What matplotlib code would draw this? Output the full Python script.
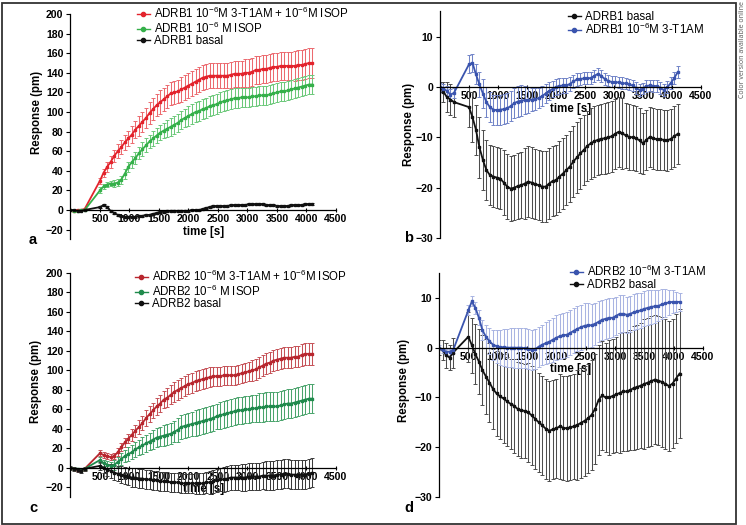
import numpy as np
import matplotlib
matplotlib.use("Agg")
import matplotlib.pyplot as plt
from matplotlib.lines import Line2D
from matplotlib.patches import Rectangle

plt.rcParams['font.family'] = ['Liberation Sans', 'DejaVu Sans']
plt.rcParams['mathtext.fontset'] = 'custom'
plt.rcParams['mathtext.rm'] = 'Liberation Sans'
plt.rcParams['mathtext.default'] = 'regular'

# sampling times [s]: baseline, then after compound addition
t = [0, 60, 120, 180, 240,
     500, 560, 620, 680, 740, 800, 860, 920, 980, 1040,
     1100, 1160, 1220, 1280, 1340, 1400, 1460, 1520, 1580, 1640,
     1700, 1760, 1820, 1880, 1940, 2000, 2060, 2120, 2180, 2240,
     2300, 2360, 2420, 2480, 2540, 2600, 2660, 2720, 2780, 2840,
     2900, 2960, 3020, 3080, 3140, 3200, 3260, 3320, 3380, 3440,
     3500, 3560, 3620, 3680, 3740, 3800, 3860, 3920, 3980, 4040,
     4100]

# panel a: ADRB1
a_combo = [0, -1, 0, 0, 1,
           30, 38, 44, 49, 55, 60, 64, 69, 73, 77,
           82, 86, 90, 94, 99, 103, 107, 110, 113, 116,
           119, 120, 121, 123, 125, 127, 129, 131, 133, 135,
           136, 137, 137, 137, 137, 137, 137, 138, 139, 139,
           139, 140, 140, 141, 143, 143, 144, 144, 145, 146,
           146, 147, 147, 147, 147, 147, 148, 148, 149, 150,
           150]
a_combo_err = [1, 1, 1, 1, 1,
               3, 4, 5, 6, 6, 7, 7, 8, 8, 9,
               9, 10, 10, 10, 11, 11, 11, 12, 12, 12,
               12, 12, 12, 13, 13, 13, 13, 13, 13, 13,
               13, 13, 13, 13, 13, 13, 13, 13, 13, 13,
               13, 14, 14, 14, 14, 14, 14, 14, 14, 14,
               14, 14, 14, 14, 14, 15, 15, 15, 15, 15,
               15]
a_isop = [0, -1, -1, 0, 0,
          20, 24, 26, 27, 27, 28, 31, 37, 44, 49,
          53, 58, 62, 66, 70, 73, 76, 79, 81, 83,
          85, 87, 89, 92, 94, 96, 98, 100, 101, 103,
          104, 106, 107, 108, 110, 111, 112, 113, 114, 114,
          115, 115, 115, 116, 116, 117, 117, 117, 118, 119,
          120, 121, 121, 122, 123, 124, 125, 126, 127, 128,
          128]
a_isop_err = [1, 1, 1, 1, 1,
              3, 3, 3, 3, 4, 4, 4, 5, 5, 6,
              6, 6, 7, 7, 7, 8, 8, 8, 8, 9,
              9, 9, 9, 9, 9, 10, 10, 10, 10, 10,
              10, 10, 10, 10, 10, 10, 10, 10, 10, 10,
              10, 10, 10, 10, 10, 10, 10, 10, 10, 10,
              10, 10, 10, 10, 10, 10, 10, 10, 10, 10,
              10]
a_basal = [0, 0, -1, -1, 0,
           3, 5, 3, -1, -3, -5, -6, -7, -7, -7,
           -7, -6, -6, -5, -5, -4, -3, -2, -2, -1,
           -1, -1, -1, -1, -1, -1, 0, 0, 0, 1,
           2, 3, 4, 4, 4, 4, 4, 5, 5, 5,
           5, 5, 6, 6, 6, 6, 6, 5, 5, 5,
           4, 4, 4, 4, 5, 5, 5, 5, 6, 6,
           6]
a_basal_err = [0.5, 0.5, 0.5, 0.5, 0.5,
               1, 1, 1, 1, 1, 1, 1, 1, 1, 1,
               1, 1, 1, 1, 1, 1, 1, 1, 1, 1,
               1, 1, 1, 1, 1, 1, 1, 1, 1, 1,
               1, 1, 1, 1, 1, 1, 1, 1, 1, 1,
               1, 1, 1, 1, 1, 1, 1, 1, 1, 1,
               1, 1, 1, 1, 1, 1, 1, 1, 1, 1,
               1]

# panel b: ADRB1
b_basal = [0, -1, -2, -2.5, -3,
           -4, -6, -8.5, -12, -14.5, -16.5, -17.5, -17.8, -18, -18.2,
           -19, -19.8, -20.2, -20, -19.7, -19.5, -19.2, -18.8, -19, -19.3,
           -19.5, -19.8, -19.8, -19.2, -18.7, -18.5, -17.8, -17.2, -16.5, -15.8,
           -14.8, -14, -13.2, -12.5, -11.7, -11.2, -10.8, -10.5, -10.3, -10.2,
           -10, -9.8, -9.3, -8.9, -9.2, -9.6, -9.9, -10, -10.2, -10.6,
           -11.2, -10.5, -9.9, -10.2, -10.4, -10.4, -10.5, -10.6, -10.3, -9.8,
           -9.3]
b_basal_err = [1, 2, 3, 3, 3,
               4, 5, 5, 6, 6, 6, 6, 6, 6, 6,
               6.5, 6.5, 6.5, 6.5, 6.5, 6.5, 7, 7, 7, 7,
               7, 7, 7, 7, 7, 7, 7, 7, 7, 7,
               7, 7, 7, 7, 7, 7, 7, 7, 7, 7,
               7, 7, 7, 7, 7, 6.5, 6.5, 6.5, 6.5, 6.5,
               6, 6, 6, 6, 6, 6, 6, 6, 6, 6,
               6]
b_t1am = [0, -0.3, -0.8, -1.5, -1.2,
          4.5, 4.8, 2.5, 0.5, -1.3, -3, -4, -4.5, -4.6, -4.5,
          -4.4, -4.2, -3.8, -3.2, -2.9, -2.7, -2.6, -2.6, -2.5, -2.4,
          -2.2, -1.8, -1.3, -0.8, -0.4, 0, 0.2, 0.3, 0.3, 0.6,
          1.1, 1.5, 1.6, 1.7, 1.7, 1.8, 2.2, 2.6, 2.2, 1.6,
          1.2, 1.0, 1.0, 0.9, 0.8, 0.7, 0.5, 0.3, -0.2, -0.6,
          -0.3, 0.2, 0.3, 0.2, 0.2, -0.2, -0.6, 0.0, 0.8, 1.8,
          3.0]
b_t1am_err = [0.7, 0.8, 1, 1.2, 1,
              1.8, 1.8, 2, 2.5, 2.8, 3, 3, 3, 3, 3,
              3, 3, 3, 3, 3, 3, 2.8, 2.5, 2.3, 2.2,
              2, 2, 1.8, 1.8, 1.6, 1.5, 1.5, 1.5, 1.4, 1.4,
              1.3, 1.3, 1.2, 1.2, 1.2, 1.2, 1.2, 1.2, 1.2, 1.2,
              1.1, 1.1, 1.1, 1.1, 1.1, 1.1, 1.1, 1.1, 1.1, 1.1,
              1.1, 1.1, 1.1, 1.1, 1.1, 1.1, 1.1, 1.1, 1.2, 1.2,
              1.2]

# panel c: ADRB2
c_combo = [0, -1, -2, -2, -1,
           15, 13, 12, 11, 12, 16, 21, 26, 30, 34,
           38, 42, 46, 51, 55, 59, 63, 66, 70, 72,
           75, 78, 80, 82, 84, 86, 87, 89, 90, 91,
           92, 93, 94, 94, 94, 95, 95, 95, 95, 96,
           97, 98, 99, 100, 101, 103, 105, 107, 108, 110,
           111, 112, 113, 113, 113, 114, 114, 116, 117, 117,
           117]
c_combo_err = [1, 1, 1, 1, 1,
               3, 3, 3, 3, 3, 4, 4, 5, 5, 6,
               6, 7, 7, 8, 8, 8, 9, 9, 9, 10,
               10, 10, 10, 10, 10, 10, 10, 10, 10, 10,
               10, 10, 10, 10, 10, 10, 10, 10, 10, 10,
               10, 10, 10, 11, 11, 11, 11, 11, 11, 11,
               11, 11, 11, 11, 11, 11, 11, 11, 11, 11,
               11]
c_isop = [0, -1, -1, -2, -1,
          8, 5, 3, 2, 3, 6, 9, 12, 14, 16,
          19, 21, 23, 25, 27, 29, 31, 32, 33, 34,
          35, 37, 39, 42, 43, 44, 45, 46, 47, 48,
          49, 50, 51, 53, 54, 55, 56, 57, 58, 59,
          59, 60, 60, 61, 61, 62, 62, 63, 63, 63,
          63, 64, 65, 66, 66, 67, 68, 69, 70, 71,
          71]
c_isop_err = [1, 1, 1, 1, 1,
              3, 3, 4, 4, 5, 5, 6, 6, 7, 7,
              8, 8, 9, 9, 9, 10, 10, 10, 11, 11,
              11, 11, 12, 12, 12, 12, 12, 13, 13, 13,
              13, 13, 13, 13, 14, 14, 14, 14, 14, 14,
              14, 14, 14, 14, 14, 15, 15, 15, 15, 15,
              15, 15, 15, 15, 15, 15, 15, 15, 15, 15,
              15]
c_basal = [0, -1, -2, -3, -1,
           2, 0, -2, -3, -5, -6, -7, -8, -9, -10,
           -10, -11, -11, -12, -12, -13, -13, -14, -14, -14,
           -15, -15, -15, -16, -16, -16, -16, -16, -16, -16,
           -15, -15, -14, -13, -12, -12, -11, -10, -10, -10,
           -10, -10, -9, -9, -9, -9, -8, -8, -8, -8,
           -7, -7, -6, -6, -7, -7, -7, -7, -7, -6,
           -5]
c_basal_err = [2, 2, 2, 2, 2,
               4, 5, 6, 7, 8, 8, 9, 9, 9, 10,
               10, 10, 10, 10, 10, 10, 10, 10, 10, 10,
               10, 10, 10, 10, 10, 10, 10, 11, 11, 11,
               11, 12, 12, 12, 12, 13, 13, 13, 13, 13,
               14, 14, 14, 14, 14, 14, 14, 15, 15, 15,
               15, 15, 15, 15, 15, 15, 15, 15, 15, 15,
               15]

# panel d: ADRB2
d_t1am = [0, -0.5, -0.8, -0.8, -0.5,
          7.5, 9.3, 8, 6, 3.5, 2.2, 1.3, 0.6, 0.3, 0.1,
          0.1, 0, 0, 0, 0, 0, -0.1, -0.2, -0.5, -0.3,
          0.2, 0.6, 0.9, 1.2, 1.6, 2.0, 2.3, 2.5, 2.6, 3.0,
          3.4, 3.8, 4.1, 4.4, 4.5, 4.5, 4.8, 5.2, 5.6, 5.8,
          6.0, 6.0, 6.4, 6.8, 6.8, 6.6, 6.8, 7.1, 7.3, 7.5,
          7.8, 8.0, 8.2, 8.3, 8.4, 8.7, 8.9, 9.1, 9.2, 9.2,
          9.2]
d_t1am_err = [0.5, 0.5, 0.6, 0.6, 0.5,
              1, 1, 1.2, 1.5, 2, 2.3, 2.6, 3, 3.3, 3.5,
              3.7, 3.8, 3.9, 4, 4, 4, 4, 4, 4, 4,
              4, 4, 4.2, 4.3, 4.4, 4.5, 4.5, 4.5, 4.5, 4.5,
              4.5, 4.5, 4.5, 4.5, 4.5, 4.3, 4.2, 4.1, 4, 4,
              4, 3.9, 3.8, 3.8, 3.7, 3.6, 3.6, 3.6, 3.6, 3.5,
              3.5, 3.5, 3.4, 3.3, 3.1, 3.0, 2.8, 2.5, 2.3, 2.0,
              1.8]
d_basal = [0, -0.5, -1.5, -2, -1,
           2.2, 0.5, -1.3, -2.8, -4.5, -5.8, -7, -8.3, -9.2, -9.8,
           -10.2, -10.8, -11.3, -11.7, -12.3, -12.6, -12.7, -13, -13.6, -14.3,
           -15, -15.6, -16.3, -16.7, -16.4, -16.2, -15.8, -16.1, -16.2, -16,
           -15.8, -15.5, -15.1, -14.7, -14.2, -13.5, -12.3, -10.5, -9.6, -10,
           -10, -9.7, -9.4, -9.1, -8.8, -8.8, -8.5, -8.1, -7.9, -7.6,
           -7.3, -7, -6.7, -6.4, -6.6, -6.9, -7.3, -7.7, -7.2, -6.2,
           -5.2]
d_basal_err = [1.5, 2, 2.5, 2.5, 3,
               5, 5.5, 6, 6.5, 7, 7.5, 8, 8, 8.5, 8.5,
               9, 9, 9, 9.5, 9.5, 9.5, 9.5, 10, 10, 10,
               10, 10, 10, 10, 10, 10, 10.5, 10.5, 10.5, 10.5,
               10.5, 11, 11, 11, 11, 11, 11, 11, 11, 11,
               11.5, 11.5, 11.5, 12, 12, 12, 12, 12.5, 12.5, 12.5,
               13, 13, 13, 13, 13, 13, 13, 13, 13, 13,
               13]

x_ticks = [500, 1000, 1500, 2000, 2500, 3000, 3500, 4000, 4500]

fig = plt.figure(figsize=(7.46, 5.25), dpi=100)


def draw(ax, series, ylim, yticks, ylab_xy, legend_order, legend_xy, legend_spacing):
    handles = {}
    for y, e, col, ecol, lab in series:
        ax.errorbar(t, y, yerr=e, color=col, ecolor=ecol, lw=1.3, marker='s', ms=1.6,
                    elinewidth=0.75, capsize=1.2, capthick=0.7)
        handles[lab] = Line2D([], [], color=col, lw=1.0, marker='o', ms=3)
    ax.set_xlim(0, 4500)
    ax.set_ylim(*ylim)
    ax.spines['top'].set_visible(False)
    ax.spines['right'].set_visible(False)
    ax.spines['bottom'].set_position(('data', 0))
    for s in ('left', 'bottom'):
        ax.spines[s].set_linewidth(0.9)
    ax.set_xticks(x_ticks)
    ax.set_yticks(yticks)
    ax.tick_params(axis='x', direction='inout', length=3, width=0.8, pad=1.5, labelsize=7.6)
    ax.tick_params(axis='y', direction='out', length=3, width=0.8, pad=2, labelsize=7.6)
    for lbl in ax.get_xticklabels() + ax.get_yticklabels():
        lbl.set_fontweight('bold')
    ax.set_xlabel('time [s]', fontsize=8.3, fontweight='bold', labelpad=1)
    ax.set_ylabel('Response (pm)', fontsize=8.3, fontweight='bold')
    ax.yaxis.set_label_coords(*ylab_xy)
    ax.legend([handles[k] for k in legend_order], legend_order, loc='upper left',
              bbox_to_anchor=legend_xy, bbox_transform=fig.transFigure, frameon=False,
              fontsize=8.3, handlelength=1.1, handletextpad=0.35, borderpad=0,
              borderaxespad=0, labelspacing=legend_spacing)


lab_a1 = 'ADRB1 10$^{-6}$M 3-T1AM + 10$^{-6}$M ISOP'
lab_a2 = 'ADRB1 10$^{-6}$ M ISOP'
lab_a3 = 'ADRB1 basal'
lab_b2 = 'ADRB1 10$^{-6}$M 3-T1AM'
lab_c1 = 'ADRB2 10$^{-6}$M 3-T1AM + 10$^{-6}$M ISOP'
lab_c2 = 'ADRB2 10$^{-6}$ M ISOP'
lab_c3 = 'ADRB2 basal'
lab_d1 = 'ADRB2 10$^{-6}$M 3-T1AM'

ax_a = fig.add_axes([0.0945, 0.544, 0.3559, 0.4293])
draw(ax_a,
     [(a_combo, a_combo_err, '#e3232c', '#ec6a6f', lab_a1),
      (a_isop, a_isop_err, '#35b04a', '#6cc97a', lab_a2),
      (a_basal, a_basal_err, '#111111', '#333333', lab_a3)],
     (-30, 200), np.arange(-20, 201, 20), (-0.104, 0.565),
     [lab_a1, lab_a2, lab_a3], (137 / 746, 1 - 6 / 525), -0.05)

ax_b = fig.add_axes([0.5898, 0.5467, 0.3499, 0.4314])
draw(ax_b,
     [(b_basal, b_basal_err, '#111111', '#4d4d4d', lab_a3),
      (b_t1am, b_t1am_err, '#3a54ae', '#7285c8', lab_b2)],
     (-30, 15), [-30, -20, -10, 0, 10], (-0.096, 0.5),
     [lab_a3, lab_b2], (568 / 746, 1 - 11 / 525), -0.1)

ax_c = fig.add_axes([0.0945, 0.0533, 0.3559, 0.4267])
draw(ax_c,
     [(c_combo, c_combo_err, '#b8262e', '#c65258', lab_c1),
      (c_isop, c_isop_err, '#1f8a4c', '#4aa46c', lab_c2),
      (c_basal, c_basal_err, '#111111', '#3a3a3a', lab_c3)],
     (-30, 200), np.arange(-20, 201, 20), (-0.107, 0.515),
     [lab_c1, lab_c2, lab_c3], (135 / 746, 1 - 269 / 525), -0.05)

ax_d = fig.add_axes([0.5885, 0.0533, 0.3539, 0.4267])
draw(ax_d,
     [(d_basal, d_basal_err, '#111111', '#4d4d4d', lab_c3),
      (d_t1am, d_t1am_err, '#3a54ae', '#a9b4e2', lab_d1)],
     (-30, 15), [-30, -20, -10, 0, 10], (-0.11, 0.52),
     [lab_d1, lab_c3], (570 / 746, 1 - 264 / 525), 0.0)

# panel letters
for letter, x, y in [('a', 33, 240), ('b', 409, 238), ('c', 33, 508), ('d', 409, 508)]:
    fig.text(x / 746, 1 - y / 525, letter, fontsize=10.5, fontweight='bold',
             ha='center', va='center')

# outer frame and side note
fig.add_artist(Rectangle((1.5 / 746, 1.5 / 525), 734 / 746, 521 / 525, transform=fig.transFigure,
                         fill=False, ec='#333333', lw=1.3))
fig.text(742 / 746, 1 - 1 / 525, 'Color version available online', rotation=90,
         ha='center', va='top', fontsize=5.0, color='#555555', family=['Open Sans', 'DejaVu Sans'])

fig.savefig('out.png', dpi=100)
